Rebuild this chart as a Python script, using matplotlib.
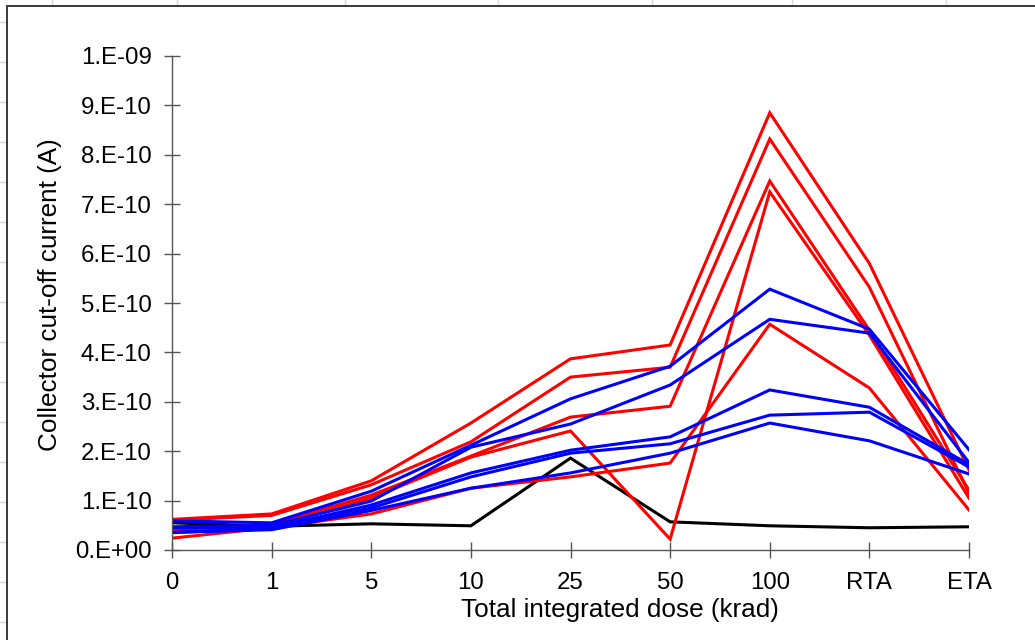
import matplotlib
matplotlib.use("Agg")
import matplotlib.pyplot as plt
from matplotlib.lines import Line2D

plt.rcParams["font.family"] = ["Liberation Sans", "DejaVu Sans"]

# Dose steps along the x axis (annealing steps at the end)
doses = ["0", "1", "5", "10", "25", "50", "100", "RTA", "ETA"]

# Collector cut-off current (A), one list per device
red_devices = [
    [0.62e-10, 0.73e-10, 1.40e-10, 2.57e-10, 3.87e-10, 4.15e-10, 8.85e-10, 5.80e-10, 1.62e-10],
    [0.60e-10, 0.70e-10, 1.32e-10, 2.19e-10, 3.50e-10, 3.70e-10, 8.32e-10, 5.32e-10, 1.15e-10],
    [0.40e-10, 0.52e-10, 1.11e-10, 1.90e-10, 2.69e-10, 2.91e-10, 7.47e-10, 4.45e-10, 1.21e-10],
    [0.38e-10, 0.47e-10, 1.05e-10, 1.88e-10, 2.41e-10, 0.22e-10, 7.25e-10, 4.35e-10, 1.05e-10],
    [0.24e-10, 0.45e-10, 0.73e-10, 1.25e-10, 1.48e-10, 1.76e-10, 4.57e-10, 3.28e-10, 0.81e-10],
]
blue_devices = [
    [0.59e-10, 0.55e-10, 1.19e-10, 2.12e-10, 3.06e-10, 3.72e-10, 5.28e-10, 4.47e-10, 2.03e-10],
    [0.47e-10, 0.50e-10, 0.99e-10, 2.08e-10, 2.55e-10, 3.34e-10, 4.67e-10, 4.39e-10, 1.77e-10],
    [0.45e-10, 0.45e-10, 0.91e-10, 1.56e-10, 2.02e-10, 2.29e-10, 3.24e-10, 2.89e-10, 1.73e-10],
    [0.35e-10, 0.43e-10, 0.85e-10, 1.48e-10, 1.96e-10, 2.15e-10, 2.73e-10, 2.79e-10, 1.68e-10],
    [0.36e-10, 0.41e-10, 0.80e-10, 1.25e-10, 1.56e-10, 1.96e-10, 2.57e-10, 2.21e-10, 1.54e-10],
]
reference_device = [0.55e-10, 0.48e-10, 0.53e-10, 0.49e-10, 1.86e-10, 0.57e-10, 0.49e-10, 0.45e-10, 0.47e-10]

y_ticks = [i * 1e-10 for i in range(11)]
y_tick_labels = ["0.E+00", "1.E-10", "2.E-10", "3.E-10", "4.E-10", "5.E-10",
                 "6.E-10", "7.E-10", "8.E-10", "9.E-10", "1.E-09"]

W, H = 1035, 640
fig = plt.figure(figsize=(W / 100, H / 100), dpi=100)
fig.patch.set_facecolor("white")

# spreadsheet cell lines peeking out around the chart frame
cell = "#d9d9d9"
for px in [52, 177, 345, 498, 652, 792, 946]:
    fig.add_artist(Line2D([px / W, px / W], [1, 1 - 6 / H], color=cell, lw=1))
for py in range(22, H, 40):
    fig.add_artist(Line2D([0, 7 / W], [1 - py / H, 1 - py / H], color=cell, lw=1))
# chart frame
fig.add_artist(Line2D([7 / W, 7 / W], [0, 1 - 6 / H], color="#3a3a3a", lw=1.4))
fig.add_artist(Line2D([7 / W, 1], [1 - 6 / H, 1 - 6 / H], color="#3a3a3a", lw=1.4))

ax = fig.add_axes([172 / W, 90 / H, 797 / W, 494 / H])
x = list(range(len(doses)))

ax.plot(x, reference_device, color="black", lw=2.2, solid_joinstyle="miter")
for ys in red_devices:
    ax.plot(x, ys, color="#ff0000", lw=2.2, solid_joinstyle="miter")
for ys in blue_devices:
    ax.plot(x, ys, color="#0000ff", lw=2.2, solid_joinstyle="miter")

ax.set_xlim(0, len(doses) - 1)
ax.set_ylim(0, 1e-9)
ax.set_xticks(x)
ax.set_xticklabels(doses)
ax.set_yticks(y_ticks)
ax.set_yticklabels(y_tick_labels)

for side in ["top", "right"]:
    ax.spines[side].set_visible(False)
for side in ["left", "bottom"]:
    ax.spines[side].set_color("#555555")
    ax.spines[side].set_linewidth(1.0)
ax.tick_params(direction="inout", length=11, width=1.0, color="#555555",
               labelsize=17.3)
ax.tick_params(axis="x", pad=10)
ax.tick_params(axis="y", pad=9)

# axis titles, placed in figure space like the spreadsheet chart does
fig.text(620 / W, 1 - 610 / H, "Total integrated dose (krad)", fontsize=18.8,
         ha="center", va="center")
fig.text(50 / W, 1 - 295 / H, "Collector cut-off current (A)", fontsize=18.8,
         ha="center", va="center", rotation=90)

fig.savefig("out.png", dpi=100)
